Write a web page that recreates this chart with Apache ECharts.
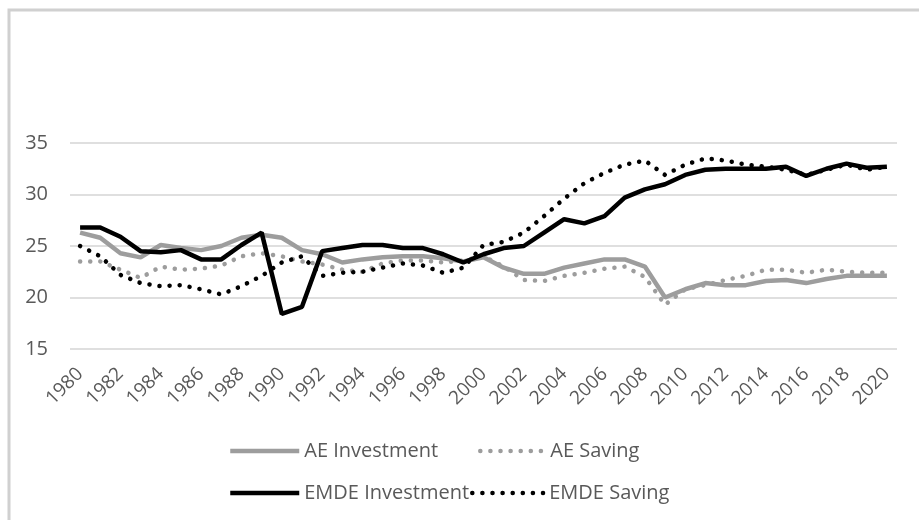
<!DOCTYPE html>
<html>
<head>
<meta charset="utf-8">
<script src="https://cdn.jsdelivr.net/npm/echarts@6/dist/echarts.min.js"></script>
<style>
html,body{margin:0;padding:0;background:#fff;}
#c{width:919px;height:520px;}
</style>
</head>
<body>
<div id="c"></div>
<script>
var years = ['1980','1981','1982','1983','1984','1985','1986','1987','1988','1989',
  '1990','1991','1992','1993','1994','1995','1996','1997','1998','1999',
  '2000','2001','2002','2003','2004','2005','2006','2007','2008','2009',
  '2010','2011','2012','2013','2014','2015','2016','2017','2018','2019','2020'];
var aeInvestment = [26.3,25.8,24.3,23.9,25.1,24.8,24.6,25.0,25.8,26.1,
  25.8,24.6,24.2,23.4,23.7,23.9,24.0,24.0,23.8,23.5,
  23.9,22.9,22.3,22.3,22.9,23.3,23.7,23.7,23.0,20.0,
  20.8,21.4,21.2,21.2,21.6,21.7,21.4,21.8,22.1,22.1,22.1];
var aeSaving = [23.5,23.5,22.7,21.9,23.0,22.7,22.8,23.1,24.0,24.3,
  24.0,23.5,23.2,22.7,22.5,23.3,23.6,23.6,23.4,23.6,
  24.0,23.0,21.7,21.6,22.1,22.4,22.8,23.0,22.0,19.3,
  20.8,21.2,21.7,22.1,22.7,22.7,22.4,22.7,22.5,22.4,22.4];
var emdeInvestment = [26.8,26.8,25.9,24.5,24.4,24.6,23.7,23.7,25.1,26.3,
  18.4,19.1,24.5,24.8,25.1,25.1,24.8,24.8,24.2,23.4,
  24.2,24.8,25.0,26.3,27.6,27.2,27.9,29.7,30.5,31.0,
  31.9,32.4,32.5,32.5,32.5,32.7,31.8,32.5,33.0,32.6,32.7];
var emdeSaving = [25.0,24.0,22.2,21.4,21.1,21.2,20.8,20.3,21.1,22.1,
  23.4,24.0,22.1,22.4,22.5,22.9,23.3,23.1,22.4,22.9,
  25.1,25.4,26.3,27.9,29.6,31.1,32.1,32.9,33.3,31.9,
  32.9,33.5,33.3,32.9,32.7,32.4,31.9,32.4,32.9,32.4,32.7];
var yTicks = {min: 15, max: 35, interval: 5};

var FONT = '"Open Sans", sans-serif';
var TXT = '#595959';
var GRAY = '#9d9d9d';
var dotType = [0.1, 10];

var chart = echarts.init(document.getElementById('c'), null, {renderer: 'canvas'});
function leg(name, left, top, w, lineStyle) {
  return {
    data: [{name: name}],
    left: left, top: top, padding: 0,
    itemWidth: w, itemHeight: 14, itemGap: 0,
    textStyle: {fontFamily: FONT, fontSize: 20, color: TXT, padding: [0, 0, 0, 0]},
    lineStyle: lineStyle,
    itemStyle: {opacity: 0},
    selectedMode: false
  };
}
chart.setOption({
  backgroundColor: '#fff',
  animation: false,
  graphic: [{
    type: 'rect', silent: true,
    shape: {x: 9, y: 10, width: 1000, height: 1000},
    style: {fill: 'none', stroke: '#d0d0d0', lineWidth: 3}
  }],
  grid: {left: 70, right: 22, top: 143, bottom: 171, containLabel: false},
  legend: [
    leg('AE Investment', 228, 441, 69, {color: GRAY, width: 4.5, type: 'solid'}),
    leg('AE Saving', 478, 441, 65, {color: GRAY, width: 4.5, type: dotType, cap: 'round'}),
    leg('EMDE Investment', 228, 483, 69, {color: '#000', width: 4.5, type: 'solid'}),
    leg('EMDE Saving', 470, 483, 72, {color: '#000', width: 4.5, type: dotType, cap: 'round'})
  ],
  xAxis: {
    type: 'category', data: years, boundaryGap: true,
    axisLine: {show: false}, axisTick: {show: false},
    axisLabel: {interval: 1, rotate: 45, margin: 22, fontFamily: FONT, fontSize: 19, color: TXT}
  },
  yAxis: {
    type: 'value', min: yTicks.min, max: yTicks.max, interval: yTicks.interval,
    axisLine: {show: false}, axisTick: {show: false},
    axisLabel: {margin: 22, fontFamily: FONT, fontSize: 20, color: TXT},
    splitLine: {lineStyle: {color: '#d4d4d4', width: 1.5}}
  },
  series: [
    {name: 'AE Investment', type: 'line', data: aeInvestment, showSymbol: false, symbol: 'none',
      itemStyle: {color: GRAY}, lineStyle: {color: GRAY, width: 4.5}, z: 2},
    {name: 'AE Saving', type: 'line', data: aeSaving, showSymbol: false, symbol: 'none',
      itemStyle: {color: GRAY}, lineStyle: {color: GRAY, width: 4.5, type: dotType, cap: 'round'}, z: 3},
    {name: 'EMDE Investment', type: 'line', data: emdeInvestment, showSymbol: false, symbol: 'none',
      itemStyle: {color: '#000'}, lineStyle: {color: '#000', width: 4.5}, z: 4},
    {name: 'EMDE Saving', type: 'line', data: emdeSaving, showSymbol: false, symbol: 'none',
      itemStyle: {color: '#000'}, lineStyle: {color: '#000', width: 4.5, type: dotType, cap: 'round'}, z: 5}
  ]
});
</script>
</body>
</html>
